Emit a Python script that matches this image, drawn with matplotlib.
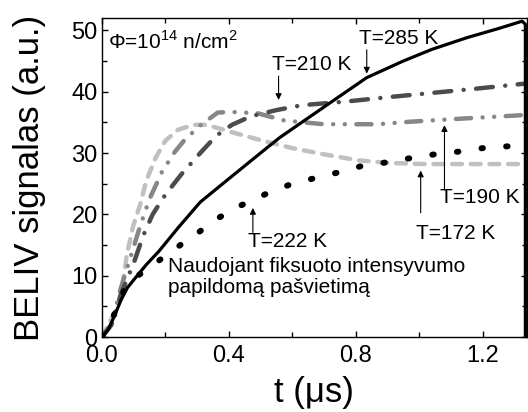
import numpy as np
import matplotlib.pyplot as plt
from matplotlib.ticker import MultipleLocator

plt.rcParams['font.family'] = ['Liberation Sans', 'DejaVu Sans']
plt.rcParams['mathtext.fontset'] = 'custom'
plt.rcParams['mathtext.rm'] = 'Liberation Sans'

# T = 285 K (solid black)
t_285 = [0.0, 0.02, 0.04, 0.06, 0.08, 0.1, 0.14, 0.18, 0.24, 0.31, 0.4, 0.5, 0.56,
         0.7, 0.835, 0.95, 1.04, 1.15, 1.25, 1.325, 1.335, 1.335]
y_285 = [0.0, 1.2, 3.5, 6.0, 8.0, 9.3, 11.8, 14.0, 17.8, 22.0, 25.8, 30.0, 32.5,
         37.5, 42.3, 45.0, 46.9, 48.8, 50.3, 51.5, 51.0, 0.0]

# T = 222 K (black dots)
t_222 = [0.0, 0.02, 0.05, 0.078, 0.157, 0.225, 0.30, 0.37, 0.44, 0.52, 0.59, 0.67,
         0.75, 0.82, 0.90, 0.976, 1.05, 1.12, 1.20, 1.28, 1.33]
y_222 = [0.0, 1.5, 5.0, 8.7, 11.6, 14.2, 16.9, 19.5, 21.5, 23.4, 24.8, 25.9,
         26.9, 27.9, 28.5, 29.2, 29.8, 30.2, 30.8, 31.1, 31.3]

# T = 210 K (dark grey dash-dot)
t_210 = [0.0, 0.03, 0.06, 0.1, 0.13, 0.16, 0.2, 0.25, 0.31, 0.36, 0.41, 0.47, 0.55,
         0.63, 0.77, 0.9, 1.04, 1.18, 1.33]
y_210 = [0.0, 2.0, 7.0, 12.0, 16.5, 20.0, 23.2, 26.5, 30.0, 32.8, 34.6, 36.0, 37.0,
         37.8, 38.4, 39.1, 39.8, 40.5, 41.3]

# T = 190 K (grey dash-dot-dot)
t_190 = [0.0, 0.03, 0.06, 0.09, 0.12, 0.15, 0.19, 0.23, 0.26, 0.31, 0.365, 0.41,
         0.49, 0.575, 0.7, 0.87, 0.97, 1.13, 1.3, 1.33]
y_190 = [0.0, 2.0, 8.0, 13.0, 18.0, 22.5, 27.0, 30.2, 32.1, 34.5, 36.6, 36.7,
         36.5, 35.3, 34.7, 34.7, 35.1, 35.6, 36.1, 36.2]

# T = 172 K (light grey dashes)
t_172 = [0.0, 0.015, 0.04, 0.057, 0.066, 0.079, 0.098, 0.12, 0.14, 0.17, 0.2, 0.24,
         0.29, 0.33, 0.41, 0.5, 0.6, 0.71, 0.81, 0.9, 1.02, 1.33]
y_172 = [0.0, 1.5, 4.0, 6.0, 9.0, 13.5, 18.0, 21.5, 25.5, 29.3, 32.0, 33.8,
         34.6, 34.6, 33.4, 32.1, 30.8, 29.7, 28.8, 28.4, 28.2, 28.2]

fig = plt.figure(figsize=(5.28, 4.12), dpi=100)
ax = fig.add_axes([0.193, 0.182, 0.805, 0.774])

ax.plot(t_172, y_172, color='#c0c0c0', lw=3.2, linestyle=(0, (2.2, 2.0)),
        dash_capstyle='round')
ax.plot(t_190, y_190, color='#878787', lw=3.2,
        linestyle=(0, (3.4, 2.6, 0.01, 2.6, 0.01, 2.6)), dash_capstyle='round')
ax.plot(t_210, y_210, color='#4c4c4c', lw=3.2,
        linestyle=(0, (3.8, 2.8, 0.01, 2.8)), dash_capstyle='round')
ax.plot(t_222, y_222, color='black', lw=4.3, linestyle=(0, (0.25, 3.9)),
        dash_capstyle='round')
ax.plot(t_285, y_285, color='black', lw=2.3, solid_joinstyle='round')

ax.set_xlim(0, 1.34)
ax.set_ylim(0, 52)
ax.xaxis.set_major_locator(MultipleLocator(0.4))
ax.xaxis.set_minor_locator(MultipleLocator(0.2))
ax.yaxis.set_major_locator(MultipleLocator(10))
ax.yaxis.set_minor_locator(MultipleLocator(5))
ax.tick_params(which='both', direction='in', top=True, right=True,
               labelsize=17, width=1)
ax.tick_params(which='major', length=4.5, pad=3)
ax.tick_params(axis='x', which='major', pad=6)
ax.tick_params(which='minor', length=3.5)
for s in ax.spines.values():
    s.set_linewidth(1)

ax.set_xlabel('t (μs)', fontsize=25, labelpad=6)
ax.set_ylabel('BELIV signalas (a.u.)', fontsize=25, labelpad=18)

ax.text(0.02, 47.0, r'Φ=10$^{14}$ n/cm$^{2}$', fontsize=15)
ax.text(0.208, 7.2, 'Naudojant fiksuoto intensyvumo\npapildomą pašvietimą',
        fontsize=15, linespacing=1.15)

arrow = dict(arrowstyle='-|>', color='black', lw=0.8, mutation_scale=9)
ax.annotate('', xy=(0.835, 42.5), xytext=(0.835, 47.3), arrowprops=arrow)
ax.text(0.81, 47.8, 'T=285 K', fontsize=15)
ax.annotate('', xy=(0.557, 38.2), xytext=(0.557, 43.0), arrowprops=arrow)
ax.text(0.535, 43.5, 'T=210 K', fontsize=15)
ax.annotate('', xy=(1.08, 35.0), xytext=(1.08, 23.5), arrowprops=arrow)
ax.text(1.065, 21.8, 'T=190 K', fontsize=15)
ax.annotate('', xy=(1.005, 27.6), xytext=(1.005, 19.8), arrowprops=arrow)
ax.text(0.99, 16.0, 'T=172 K', fontsize=15)
ax.annotate('', xy=(0.476, 21.5), xytext=(0.476, 16.6), arrowprops=arrow)
ax.text(0.462, 14.6, 'T=222 K', fontsize=15)

fig.savefig('out.png', dpi=100)
